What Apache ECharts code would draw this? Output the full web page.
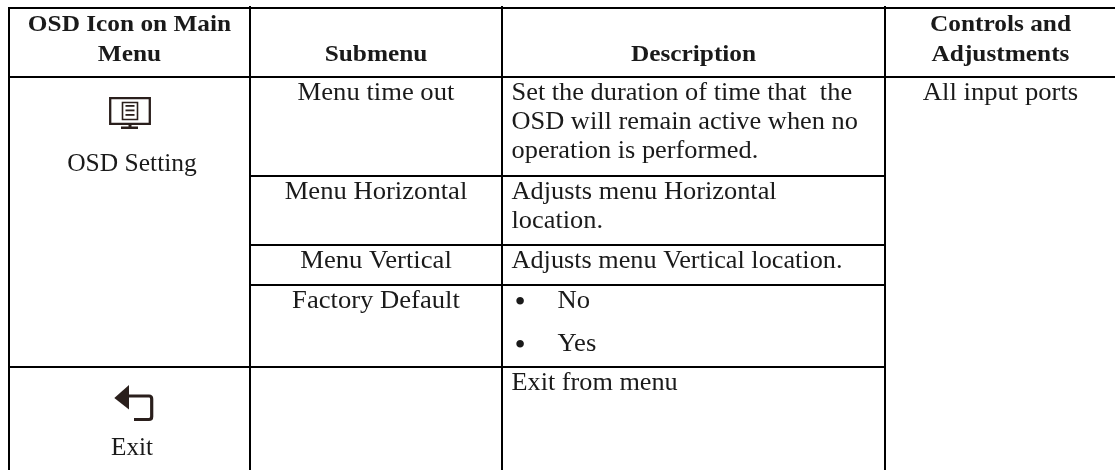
<!DOCTYPE html>
<html>
<head>
<meta charset="utf-8">
<style>html,body{margin:0;background:#fff}#main{width:1115px;height:470px}</style>
<script src="https://cdn.jsdelivr.net/npm/echarts@6/dist/echarts.min.js"></script>
</head>
<body>
<div id="main"></div>
<script>
var columns = ['icon', 'submenu', 'description', 'controls'];
var rows = ['header', 'timeOut', 'horizontal', 'vertical', 'factory', 'exit'];

var headers = ['OSD Icon on Main\nMenu', 'Submenu', 'Description', 'Controls and\nAdjustments'];
var mainItems = ['OSD Setting', 'Exit'];
var submenus = ['Menu time out', 'Menu Horizontal', 'Menu Vertical', 'Factory Default'];
var descriptions = [
    'Set the duration of time that  the\nOSD will remain active when no\noperation is performed.',
    'Adjusts menu Horizontal\nlocation.',
    'Adjusts menu Vertical location.',
    'Exit from menu'
];
var factoryOptions = ['No', 'Yes'];
var controls = 'All input ports';

var columnSizes = [241, 252, 383, 231];
var rowSizes = [69, 99, 69, 40, 82, 111];

var font = '"Liberation Serif", serif';
var textColor = '#1a1a1a';
var iconColor = '#2a1f1c';

// col, row, text, x offset from cell centre (null = left pad), y offset from cell top, bold, x stretch
var texts = [
    [0, 0, headers[0], 0, 0, true, 1.055],
    [1, 0, headers[1], 0, 30, true, 1.055],
    [2, 0, headers[2], 0, 30, true, 1.055],
    [3, 0, headers[3], 0, 0, true, 1.055],
    [0, 1, mainItems[0], 2.5, 71, false, 1.02],
    [0, 5, mainItems[1], 2.5, 65, false, 1.01],
    [1, 1, submenus[0], 0, 0, false, 1.065],
    [1, 2, submenus[1], 0, 0, false, 1.065],
    [1, 3, submenus[2], 0, 0, false, 1.065],
    [1, 4, submenus[3], 0, 0, false, 1.065],
    [2, 1, descriptions[0], null, 0, false, 1.055],
    [2, 2, descriptions[1], null, 0, false, 1.055],
    [2, 3, descriptions[2], null, 0, false, 1.05],
    [2, 5, descriptions[3], null, 0, false, 1.05],
    [3, 1, controls, 0, 0, false, 1.065]
];

// merged cells answer with their own centre, so x comes from the header row and y from the submenu column
function cellTopLeft(api, col, row) {
    var cx = api.coord([col, 0])[0];
    var cy = api.coord([1, row])[1];
    return [cx - columnSizes[col] / 2, cy - rowSizes[row] / 2, cx];
}

function renderText(params, api) {
    var t = texts[params.dataIndex];
    var p = cellTopLeft(api, t[0], t[1]);
    var bold = t[5];
    var isLeft = t[3] === null;
    return {
        type: 'text',
        x: isLeft ? p[0] + 9.5 : p[2] + t[3],
        y: p[1] + t[4] + 2,
        scaleX: t[6],
        style: {
            text: t[2],
            x: 0,
            y: 0,
            fill: textColor,
            font: (bold ? 'bold 24px ' : '25px ') + font,
            lineHeight: bold ? 30 : 29,
            align: isLeft ? 'left' : 'center',
            verticalAlign: 'top'
        }
    };
}

// the bullet list of the Factory Default row
function renderBullets(params, api) {
    var p = cellTopLeft(api, 2, 4);
    var children = [];
    factoryOptions.forEach(function (o, i) {
        var y = p[1] + 2 + i * 43;
        var st = { fill: textColor, lineHeight: 29, verticalAlign: 'top', align: 'left' };
        children.push({ type: 'text', x: p[0] + 12.5, y: y + 2, style: Object.assign({ text: '\u2022', x: 0, y: 0, font: '32px ' + font }, st) });
        children.push({ type: 'text', x: p[0] + 55.5, y: y, scaleX: 1.065, style: Object.assign({ text: o, x: 0, y: 0, font: '25px ' + font }, st) });
    });
    return { type: 'group', children: children };
}

function renderIcons(params, api) {
    var a = cellTopLeft(api, 0, 1);
    var b = cellTopLeft(api, 0, 5);
    var line = { stroke: iconColor, fill: null, lineWidth: 2.3 };
    var solid = { fill: iconColor };
    return {
        type: 'group',
        children: [{
            // monitor
            type: 'group',
            x: a[0],
            y: a[1],
            children: [
                { type: 'rect', shape: { x: 101.2, y: 21.2, width: 39.6, height: 25.6 }, style: line },
                { type: 'rect', shape: { x: 113.5, y: 25.5, width: 15, height: 17 }, style: Object.assign({}, line, { lineWidth: 1.6 }) },
                { type: 'rect', shape: { x: 116.5, y: 28, width: 9, height: 1.8 }, style: solid },
                { type: 'rect', shape: { x: 116.5, y: 32.5, width: 9, height: 1.8 }, style: solid },
                { type: 'rect', shape: { x: 116.5, y: 37, width: 9, height: 1.8 }, style: solid },
                { type: 'rect', shape: { x: 119.5, y: 47, width: 3, height: 3 }, style: solid },
                { type: 'rect', shape: { x: 112, y: 49.5, width: 17, height: 2.5 }, style: solid }
            ]
        }, {
            // exit arrow
            type: 'group',
            x: b[0],
            y: b[1],
            children: [
                { type: 'polygon', shape: { points: [[105.3, 31], [120, 18], [120, 42.5]] }, style: solid },
                {
                    type: 'path',
                    shape: { pathData: 'M119 29H140Q142.7 29 142.7 32V49.5Q142.7 52.5 140 52.5H125', x: 119, y: 29, width: 23.7, height: 23.5, layout: 'cover' },
                    style: { stroke: iconColor, fill: null, lineWidth: 3.2 }
                }
            ]
        }]
    };
}

// small overshoot of the column rules above the top rule
function renderTicks(params, api) {
    var children = [1, 2, 3].map(function (col) {
        var p = cellTopLeft(api, col, 0);
        return { type: 'rect', shape: { x: p[0] - 1, y: p[1] - 2, width: 2, height: 2 }, style: { fill: '#000' } };
    });
    return { type: 'group', children: children };
}

var chart = echarts.init(document.getElementById('main'));
chart.setOption({
    backgroundColor: '#fff',
    animation: false,
    tooltip: { show: false },
    matrix: {
        left: 9, top: 8, width: 1107, height: 470,
        x: { show: false, data: columns.map(function (c, i) { return { value: c, size: columnSizes[i] }; }) },
        y: { show: false, data: rows.map(function (r, i) { return { value: r, size: rowSizes[i] }; }) },
        corner: { show: false },
        backgroundStyle: { borderWidth: 0, color: 'transparent' },
        body: {
            itemStyle: { borderColor: '#000', borderWidth: 2, color: '#fff' },
            data: [
                { coord: [0, [1, 4]], mergeCells: true },
                { coord: [3, [1, 5]], mergeCells: true }
            ]
        }
    },
    series: [
        { type: 'custom', coordinateSystem: 'matrix', silent: true, renderItem: renderText, data: texts.map(function (t) { return [t[0], t[1]]; }) },
        { type: 'custom', coordinateSystem: 'matrix', silent: true, renderItem: renderBullets, data: [[2, 4]] },
        { type: 'custom', coordinateSystem: 'matrix', silent: true, renderItem: renderIcons, data: [[0, 1]] },
        { type: 'custom', coordinateSystem: 'matrix', silent: true, renderItem: renderTicks, data: [[1, 0]] }
    ]
});
window.onresize = function () {
    chart.resize();
};
</script>
</body>
</html>
